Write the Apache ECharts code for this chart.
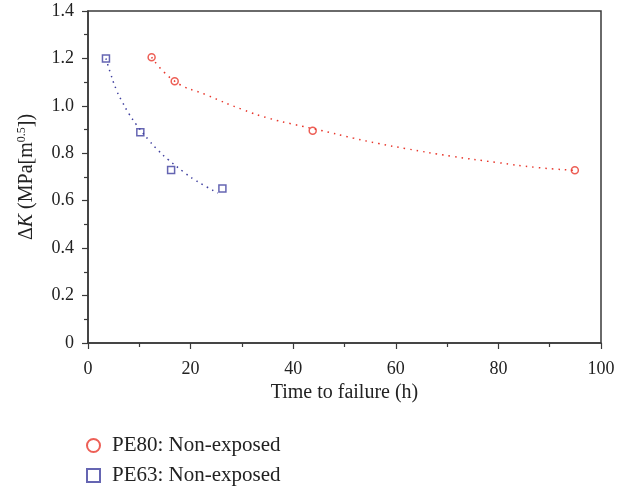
<!DOCTYPE html>
<html>
<head>
<meta charset="utf-8">
<script src="https://cdn.jsdelivr.net/npm/echarts@6/dist/echarts.min.js"></script>
<style>
  html, body { margin: 0; padding: 0; background: #fff; }
  #chart { width: 632px; height: 489px; }
</style>
</head>
<body>
<div id="chart"></div>
<script>
// measured points
var pe80Data = [[12.4, 1.205], [16.9, 1.104], [43.8, 0.895], [94.9, 0.728]];
var pe63Data = [[3.5, 1.2], [10.2, 0.889], [16.2, 0.729], [26.2, 0.652]];

// fitted curves
var pe80Fit = [[12.4, 1.205], [16.9, 1.104], [23.1, 1.046], [30.3, 0.983], [35.2, 0.948],
  [40.3, 0.921], [45.3, 0.897], [51.7, 0.864], [56.7, 0.841], [61.9, 0.820],
  [70.8, 0.788], [79.8, 0.761], [87.6, 0.740], [94.9, 0.728]];
var pe63Fit = [[3.5, 1.2], [4.3, 1.143], [5.6, 1.064], [6.7, 1.016], [8.0, 0.966],
  [9.5, 0.919], [11.9, 0.854], [13.7, 0.812], [15.6, 0.774], [18.6, 0.722],
  [20.8, 0.688], [23.0, 0.660], [25.3, 0.632]];

var seriesNames = ['PE80: Non-exposed', 'PE63: Non-exposed'];

var red = '#e8372c';
var blue = '#3f3f9f';
var serif = 'Liberation Serif';
var ink = '#222';

var chart = echarts.init(document.getElementById('chart'));

var option = {
  backgroundColor: '#fff',
  animation: false,
  grid: {
    left: 88, right: 31, top: 11, bottom: 146,
    show: true, borderColor: '#3a3a3a', borderWidth: 1.5, backgroundColor: 'transparent'
  },
  legend: {
    data: seriesNames,
    orient: 'vertical',
    left: 86, top: 435,
    padding: 0,
    itemGap: 9,
    itemWidth: 13, itemHeight: 13,
    textStyle: { fontFamily: serif, fontSize: 21, color: ink, padding: [0, 0, 0, 7] }
  },
  xAxis: {
    type: 'value',
    min: 0, max: 100, interval: 20,
    name: 'Time to failure (h)',
    nameLocation: 'middle',
    nameGap: 40,
    nameTextStyle: { fontFamily: serif, fontSize: 20, color: ink },
    axisLine: { lineStyle: { color: '#3a3a3a', width: 1.5 } },
    axisTick: { show: true, length: 6, lineStyle: { color: '#3a3a3a', width: 1.2 } },
    minorTick: { show: true, splitNumber: 2, length: 4, lineStyle: { color: '#3a3a3a', width: 1.2 } },
    axisLabel: { fontFamily: serif, fontSize: 18, color: ink, margin: 17 },
    splitLine: { show: false }
  },
  yAxis: {
    type: 'value',
    min: 0, max: 1.4, interval: 0.2,
    name: '{d|Δ}{k|K} (MPa[m{s|0.5}])',
    nameLocation: 'middle',
    nameGap: 50,
    nameRotate: 90,
    nameTextStyle: {
      fontFamily: serif, fontSize: 20, color: ink,
      rich: {
        d: { fontFamily: serif, fontSize: 20, color: ink },
        k: { fontFamily: serif, fontSize: 20, fontStyle: 'italic', color: ink },
        s: { fontFamily: serif, fontSize: 12, color: ink, verticalAlign: 'top', padding: [0, 0, 10, 0] }
      }
    },
    axisLine: { show: true, lineStyle: { color: '#3a3a3a', width: 1.5 } },
    axisTick: { show: true, length: 6, lineStyle: { color: '#3a3a3a', width: 1.2 } },
    minorTick: { show: true, splitNumber: 2, length: 4, lineStyle: { color: '#3a3a3a', width: 1.2 } },
    axisLabel: {
      fontFamily: serif, fontSize: 18, color: ink, margin: 14,
      formatter: function (v) { return v === 0 ? '0' : v.toFixed(1); }
    },
    splitLine: { show: false }
  },
  series: [
    {
      name: 'PE80 fit', type: 'line', data: pe80Fit, smooth: true,
      showSymbol: false, silent: true,
      lineStyle: { color: red, width: 1.5, type: [1.5, 5] }
    },
    {
      name: 'PE63 fit', type: 'line', data: pe63Fit, smooth: true,
      showSymbol: false, silent: true,
      lineStyle: { color: blue, width: 1.5, type: [1.5, 4.5] }
    },
    {
      name: seriesNames[0], type: 'scatter', data: pe80Data,
      symbol: 'circle', symbolSize: 7,
      itemStyle: { color: '#fff', borderColor: red, borderWidth: 1.5 }
    },
    {
      name: seriesNames[1], type: 'scatter', data: pe63Data,
      symbol: 'rect', symbolSize: 7,
      itemStyle: { color: '#fff', borderColor: blue, borderWidth: 1.5 }
    }
  ]
};

chart.setOption(option);
</script>
</body>
</html>
